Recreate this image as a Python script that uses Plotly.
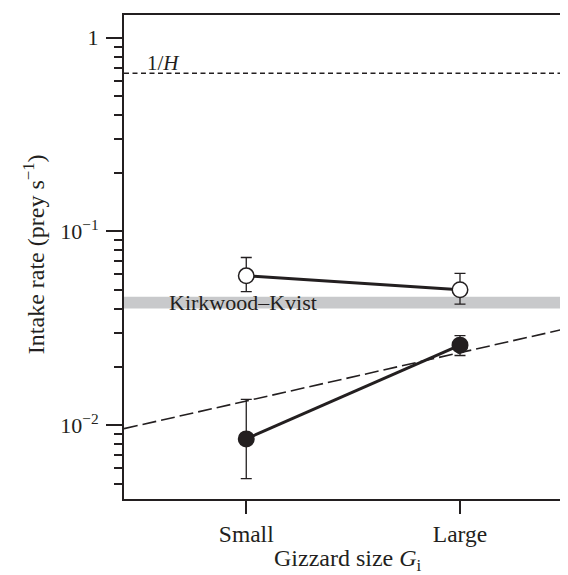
import numpy as np
import plotly.graph_objects as go

# gizzard size groups
categories = ["Small", "Large"]
x_pos = [1, 2]

# intake rates (prey s^-1)
open_mean = [0.059, 0.050]
open_upper = [0.0734, 0.0607]
open_lower = [0.0489, 0.0422]

filled_mean = [0.0085, 0.0259]
filled_upper = [0.0136, 0.0290]
filled_lower = [0.0053, 0.0229]

# reference lines
inv_handling = 0.655               # 1/H
kirkwood_kvist = [0.040, 0.046]    # grey band
trend_x = [0.428, 2.524]
trend_y = [0.0096, 0.032]

INK = "#231f20"
FONT = "Liberation Serif, Times New Roman, serif"

x_range = [0.428, 2.524]
y_range = [np.log10(0.00416), np.log10(1.31)]

fig = go.Figure()

# Kirkwood-Kvist band
fig.add_shape(
    type="rect", xref="paper", x0=0, x1=1, yref="y",
    y0=kirkwood_kvist[0], y1=kirkwood_kvist[1],
    fillcolor="#c8c9cb", line_width=0, layer="below",
)
# 1/H line
fig.add_trace(go.Scatter(
    x=x_range, y=[inv_handling, inv_handling], mode="lines",
    line=dict(color=INK, width=1.6, dash="5px,3.5px"), showlegend=False, hoverinfo="skip",
))
# long-dashed trend line
fig.add_trace(go.Scatter(
    x=trend_x, y=trend_y, mode="lines",
    line=dict(color=INK, width=1.6, dash="14px,5px"), showlegend=False, hoverinfo="skip",
))


def add_series(mean, upper, lower, fill):
    fig.add_trace(go.Scatter(
        x=x_pos, y=mean, mode="lines+markers",
        line=dict(color=INK, width=3),
        marker=dict(size=15.5, color=fill, line=dict(color=INK, width=1.5)),
        error_y=dict(
            type="data", symmetric=False,
            array=[u - m for u, m in zip(upper, mean)],
            arrayminus=[m - l for m, l in zip(mean, lower)],
            color=INK, thickness=1.3, width=5.5,
        ),
        showlegend=False,
    ))


add_series(open_mean, open_upper, open_lower, "white")
add_series(filled_mean, filled_upper, filled_lower, INK)

minor_vals = [m * 10.0 ** e for e in (-3, -2, -1) for m in range(2, 10)]
minor_vals = [v for v in minor_vals if 0.00416 <= v <= 1.31]

fig.update_layout(
    width=568, height=575,
    margin=dict(l=116, r=2, t=7, b=84),
    plot_bgcolor="white", paper_bgcolor="white",
    font=dict(family=FONT, size=22, color=INK),
    xaxis=dict(
        range=x_range, tickvals=x_pos, ticktext=categories, tickfont=dict(size=23.5),
        ticks="outside", ticklen=13, tickwidth=1.5, tickcolor=INK,
        showline=True, linewidth=2, linecolor=INK, mirror=True,
        showgrid=False, zeroline=False,
    ),
    yaxis=dict(
        type="log", range=y_range,
        tickvals=[0.01, 0.1, 1], ticktext=["10<sup>\u22122</sup>", "10<sup>\u22121</sup>", "1"],
        ticks="outside", ticklen=16, tickwidth=1.5, tickcolor=INK, ticklabelstandoff=3,
        minor=dict(tickvals=minor_vals, ticks="outside", ticklen=8, tickwidth=1.5, tickcolor=INK),
        showline=True, linewidth=2, linecolor=INK, mirror=True,
        showgrid=False, zeroline=False,
    ),
    annotations=[
        dict(x=0.5, y=-0.126, xref="paper", yref="paper",
             text="Gizzard size <i>G</i><sub>i</sub>", showarrow=False,
             xanchor="center", yanchor="middle", font=dict(size=24)),
        dict(x=-0.2018, y=0.505, xref="paper", yref="paper", textangle=-90,
             text="Intake rate (prey s<sup>\u22121</sup>)", showarrow=False,
             xanchor="center", yanchor="middle", font=dict(size=24)),
        dict(x=0.526, y=np.log10(0.74), xref="x", yref="y", text="1/<i>H</i>",
             showarrow=False, xanchor="left", yanchor="middle", font=dict(size=21)),
        dict(x=0.63, y=np.log10(0.0432), xref="x", yref="y", text="Kirkwood\u2013Kvist",
             showarrow=False, xanchor="left", yanchor="middle", font=dict(size=22)),
    ],
)

fig.write_html("out.html")
